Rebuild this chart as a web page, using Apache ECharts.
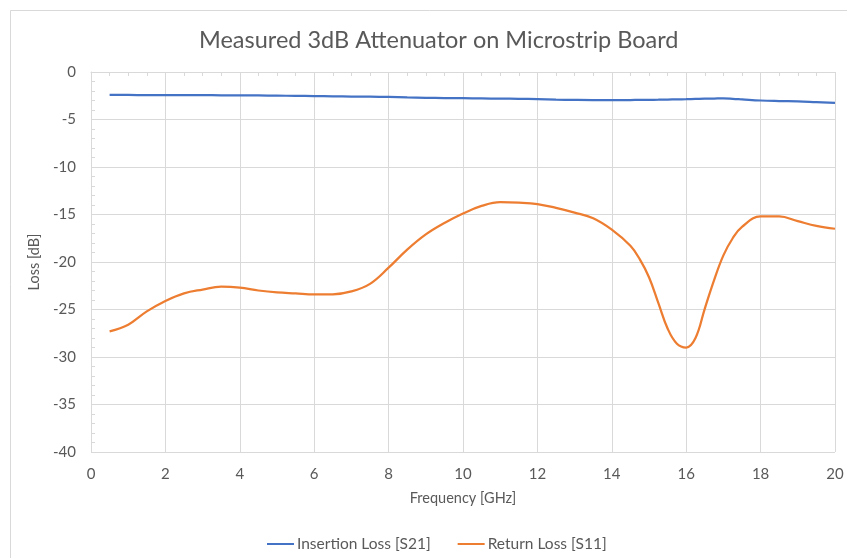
<!DOCTYPE html>
<html>
<head>
<meta charset="utf-8">
<script src="https://cdn.jsdelivr.net/npm/echarts@6/dist/echarts.min.js"></script>
<style>
  html, body { margin: 0; padding: 0; background: #fff; }
  #chart { width: 847px; height: 558px; }
</style>
</head>
<body>
<div id="chart"></div>
<script>
// frequency points [GHz]
const freqs = [
  0.5, 1, 1.5, 2, 2.5, 3, 3.5, 4, 4.5, 5,
  5.5, 6, 6.5, 7, 7.5, 8, 8.5, 9, 9.5, 10,
  10.5, 11, 11.5, 12, 12.5, 13, 13.5, 14, 14.5, 14.75,
  15, 15.25, 15.5, 15.75, 16, 16.25, 16.5, 16.75, 17, 17.25,
  17.5, 18, 18.5, 19, 19.5, 20
];

// S21 [dB]
const insertionLoss = [
  -2.42, -2.42, -2.43, -2.43, -2.44, -2.44, -2.45, -2.45, -2.47, -2.49,
  -2.51, -2.53, -2.56, -2.58, -2.60, -2.63, -2.68, -2.72, -2.74, -2.76,
  -2.78, -2.80, -2.82, -2.85, -2.90, -2.94, -2.96, -2.96, -2.95, -2.94,
  -2.93, -2.92, -2.90, -2.88, -2.86, -2.83, -2.80, -2.79, -2.78, -2.82,
  -2.88, -3.00, -3.06, -3.10, -3.18, -3.26
];

// S11 [dB]
const returnLoss = [
  -27.3, -26.6, -25.2, -24.1, -23.3, -22.9, -22.6, -22.7, -23.0, -23.2,
  -23.3, -23.4, -23.4, -23.1, -22.3, -20.6, -18.7, -17.1, -15.9, -14.9,
  -14.1, -13.7, -13.75, -13.9, -14.3, -14.8, -15.4, -16.6, -18.3, -19.7,
  -21.6, -24.3, -27.0, -28.6, -29.0, -28.0, -24.9, -21.9, -19.3, -17.5,
  -16.3, -15.2, -15.2, -15.7, -16.2, -16.5
];

const seriesNames = ["Insertion Loss [S21]", "Return Loss [S11]"];

const FONT = "Lato";
const TEXT = "#595959";
const GRID = "#d9d9d9";

const chart = echarts.init(document.getElementById("chart"));

const toPairs = (ys) => freqs.map((f, i) => [f, ys[i]]);

chart.setOption({
  backgroundColor: "#fff",
  animation: false,
  textStyle: { fontFamily: FONT },
  graphic: [
    {
      type: "rect",
      shape: { x: 10.5, y: 10.5, width: 900, height: 600 },
      style: { fill: "none", stroke: GRID, lineWidth: 1 },
      silent: true,
    },
  ],
  title: {
    text: "Measured 3dB Attenuator on Microstrip Board",
    left: 194,
    top: 23,
    textStyle: { fontFamily: FONT, fontSize: 23.5, fontWeight: "normal", color: TEXT },
  },
  legend: {
    data: seriesNames,
    left: 262,
    top: 531,
    icon: "rect",
    itemWidth: 27,
    itemHeight: 2,
    itemGap: 27,
    textStyle: { fontFamily: FONT, fontSize: 15.5, color: TEXT, padding: [0, 0, 0, -2] },
  },
  grid: { left: 91, right: 12, top: 72, bottom: 106 },
  xAxis: [
    {
      type: "value",
      position: "bottom",
      min: 0,
      max: 20,
      interval: 2,
      name: "Frequency [GHz]",
      nameLocation: "middle",
      nameGap: 39,
      nameTextStyle: { fontFamily: FONT, fontSize: 14.5, color: TEXT },
      axisLine: { show: false },
      axisTick: { show: false },
      axisLabel: { color: TEXT, fontSize: 15, fontFamily: FONT, margin: 15 },
      splitLine: { show: true, lineStyle: { color: GRID, width: 1 } },
    },
    {
      type: "value",
      position: "top",
      min: 0,
      max: 20,
      interval: 2,
      axisLine: { show: true, onZero: false, lineStyle: { color: GRID, width: 1 } },
      axisTick: { show: true, inside: true, length: 4, lineStyle: { color: GRID } },
      minorTick: { show: true, splitNumber: 4, length: 4, lineStyle: { color: GRID } },
      axisLabel: { show: false },
      splitLine: { show: false },
    },
  ],
  yAxis: {
    type: "value",
    min: -40,
    max: 0,
    interval: 5,
    name: "Loss [dB]",
    nameLocation: "middle",
    nameGap: 44,
    nameTextStyle: { fontFamily: FONT, fontSize: 14.5, color: TEXT },
    axisLine: { show: true, lineStyle: { color: GRID, width: 1 } },
    axisTick: { show: true, inside: true, length: 4, lineStyle: { color: GRID } },
    minorTick: { show: true, splitNumber: 5, length: 4, lineStyle: { color: GRID } },
    axisLabel: { color: TEXT, fontSize: 15, fontFamily: FONT, margin: 15 },
    splitLine: { show: true, lineStyle: { color: GRID, width: 1 } },
  },
  series: [
    {
      name: seriesNames[0],
      type: "line",
      xAxisIndex: 0,
      data: toPairs(insertionLoss),
      smooth: 0.4,
      symbol: "none",
      lineStyle: { color: "#4472C4", width: 2.25 },
      itemStyle: { color: "#4472C4" },
    },
    {
      name: seriesNames[1],
      type: "line",
      xAxisIndex: 0,
      data: toPairs(returnLoss),
      smooth: 0.4,
      symbol: "none",
      lineStyle: { color: "#ED7D31", width: 2.25 },
      itemStyle: { color: "#ED7D31" },
    },
  ],
});
</script>
</body>
</html>
